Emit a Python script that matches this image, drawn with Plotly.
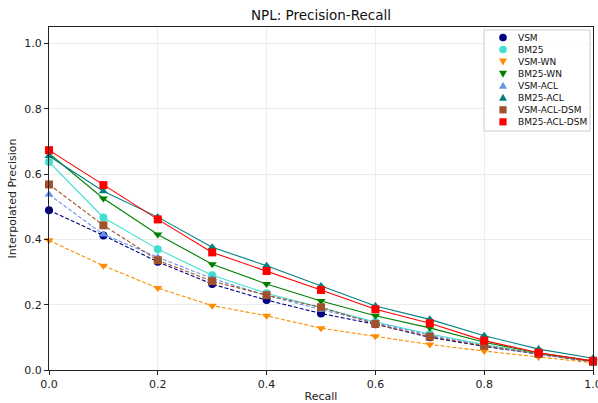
import plotly.graph_objects as go

recall = [0.0, 0.1, 0.2, 0.3, 0.4, 0.5, 0.6, 0.7, 0.8, 0.9, 1.0]

vsm = [0.489, 0.412, 0.331, 0.263, 0.214, 0.173, 0.140, 0.100, 0.072, 0.048, 0.025]
bm25 = [0.637, 0.467, 0.370, 0.290, 0.235, 0.190, 0.147, 0.110, 0.078, 0.050, 0.026]
vsm_wn = [0.397, 0.319, 0.251, 0.197, 0.166, 0.128, 0.103, 0.078, 0.058, 0.040, 0.022]
bm25_wn = [0.663, 0.525, 0.415, 0.324, 0.263, 0.211, 0.166, 0.129, 0.085, 0.052, 0.027]
vsm_acl = [0.537, 0.415, 0.345, 0.280, 0.228, 0.185, 0.145, 0.106, 0.075, 0.048, 0.025]
bm25_acl = [0.655, 0.547, 0.468, 0.376, 0.319, 0.257, 0.196, 0.155, 0.105, 0.064, 0.036]
vsm_acl_dsm = [0.568, 0.443, 0.336, 0.272, 0.229, 0.192, 0.141, 0.102, 0.074, 0.049, 0.025]
bm25_acl_dsm = [0.673, 0.566, 0.461, 0.360, 0.303, 0.245, 0.186, 0.143, 0.090, 0.053, 0.028]

tick_vals = [0.0, 0.2, 0.4, 0.6, 0.8, 1.0]
tick_text = ["0.0", "0.2", "0.4", "0.6", "0.8", "1.0"]

series_names = ["VSM", "BM25", "VSM-WN", "BM25-WN", "VSM-ACL", "BM25-ACL", "VSM-ACL-DSM", "BM25-ACL-DSM"]
series_values = [vsm, bm25, vsm_wn, bm25_wn, vsm_acl, bm25_acl, vsm_acl_dsm, bm25_acl_dsm]
colors = ["#000080", "#40E0D0", "#FF8C00", "#008000", "#6495ED", "#008080", "#A0522D", "#FF0000"]
symbols = ["circle", "circle", "triangle-down", "triangle-down", "triangle-up", "triangle-up", "square", "square"]
dashes = ["4px,2px", "solid", "4px,2px", "solid", "4px,2px", "solid", "4px,2px", "solid"]

W, H = 598, 403
ML, MR, MT, MB = 49, 5, 27, 33
PW, PH = W - ML - MR, H - MT - MB


def px_x(X):
    return (X - ML) / PW


def px_y(Y):
    return (H - MB - Y) / PH


fig = go.Figure()
for name, vals, c, s, d in zip(series_names, series_values, colors, symbols, dashes):
    fig.add_trace(go.Scatter(x=recall, y=vals, mode="lines", line=dict(color=c, width=1.1, dash=d),
                             showlegend=False, hoverinfo="skip", cliponaxis=False))
    fig.add_trace(go.Scatter(x=recall, y=vals, mode="markers", name=name, showlegend=False,
                             cliponaxis=False,
                             marker=dict(color=c, symbol=s, size=8, line=dict(width=0))))

# manual matplotlib-style legend (compact row spacing)
shapes = [dict(type="rect", xref="paper", yref="paper",
               x0=px_x(484), x1=px_x(590), y0=px_y(131), y1=px_y(30),
               line=dict(color="#cccccc", width=1), fillcolor="rgba(255,255,255,0.85)", layer="above")]
annotations = []
paths = {
    "triangle-down": "M-4,3 L4,3 L0,-4 Z",
    "triangle-up": "M-4,-3 L4,-3 L0,4 Z",
}
for i, (name, c, s) in enumerate(zip(series_names, colors, symbols)):
    yc = 37.5 + i * 12.05
    mx, my = px_x(503), px_y(yc)
    base = dict(xref="paper", yref="paper", xsizemode="pixel", ysizemode="pixel",
                xanchor=mx, yanchor=my, fillcolor=c, line=dict(width=0), layer="above")
    if s == "circle":
        shapes.append(dict(type="circle", x0=-3.8, x1=3.8, y0=-3.8, y1=3.8, **base))
    elif s == "square":
        shapes.append(dict(type="rect", x0=-3.6, x1=3.6, y0=-3.6, y1=3.6, **base))
    else:
        shapes.append(dict(type="path", path=paths[s], **base))
    annotations.append(dict(text=name, xref="paper", yref="paper", x=px_x(516), y=my,
                            xanchor="left", yanchor="middle", showarrow=False,
                            font=dict(size=9, color="#111")))

axis_common = dict(showline=True, linecolor="#222", linewidth=1, mirror=True,
                   ticks="outside", ticklen=4, tickcolor="#222", tickwidth=1,
                   showgrid=True, gridcolor="#ececec", gridwidth=1, zeroline=False,
                   tickfont=dict(size=11, color="#222"), automargin=False,
                   ticklabeloverflow="allow",
                   tickmode="array", tickvals=tick_vals, ticktext=tick_text)

fig.update_layout(
    width=W, height=H,
    margin=dict(l=ML, r=MR, t=MT, b=MB),
    paper_bgcolor="white", plot_bgcolor="white",
    font=dict(family="DejaVu Sans", color="#222"),
    showlegend=False,
    title=dict(text="NPL: Precision-Recall", x=0.5, xref="paper", xanchor="center",
               y=1 - 15 / H, yref="container", yanchor="middle",
               font=dict(size=13.5, color="#111"), automargin=False),
    xaxis=dict(range=[0, 1], title=dict(text="Recall", font=dict(size=11), standoff=7), **axis_common),
    yaxis=dict(range=[0, 1.05], title=dict(text="Interpolated Precision", font=dict(size=11), standoff=5), **axis_common),
    shapes=shapes,
    annotations=annotations,
)

fig.write_html("out.html", config={"displayModeBar": False},
               post_script="document.body.style.margin='0';document.body.style.overflow='hidden';")
